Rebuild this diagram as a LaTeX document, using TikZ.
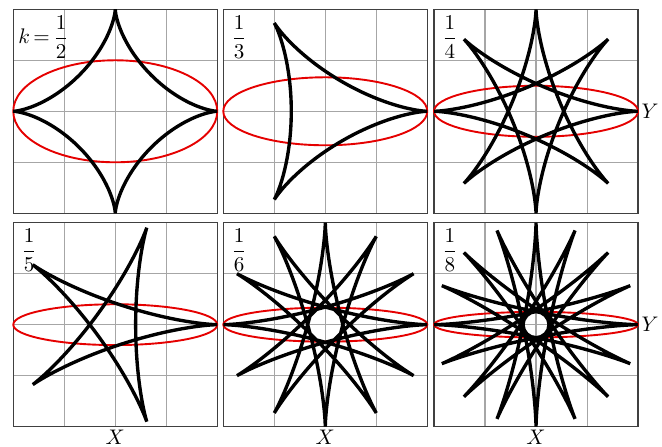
\documentclass[tikz,border=0pt]{standalone}
\usepackage{amsmath}
\usetikzlibrary{positioning}

\begin{document}
\begin{tikzpicture}[
  x=1.7cm, y=1.7cm,
  frame/.style={draw=black!75, line width=0.6pt},
  gridline/.style={draw=black!35, line width=0.5pt},
  orbit/.style={draw=red!90!black, line width=0.9pt},
  star/.style={draw=black, line width=1.6pt},
  tag/.style={anchor=north west, inner sep=0pt},
  axis/.style={inner sep=1.5pt}]
  \useasboundingbox (0,0) rectangle (6.49,4.373);
  \foreach \k/\cx/\cy/\tx/\lab [count=\i] in {
      2/1.130/3.282/-0.955/{k{\,=\,}\dfrac{1}{2}},
      3/3.189/3.282/-0.925/{\dfrac{1}{3}},
      4/5.255/3.282/-0.925/{\dfrac{1}{4}},
      5/1.130/1.190/-0.925/{\dfrac{1}{5}},
      6/3.189/1.190/-0.925/{\dfrac{1}{6}},
      8/5.255/1.190/-0.925/{\dfrac{1}{8}}} {
    \pgfmathsetmacro\umax{360*\k}
    \pgfmathtruncatemacro\nsmp{120*\k+1}
    \begin{scope}[shift={(\cx,\cy)}]
      \draw[gridline] (-1,-1) grid[step=0.5] (1,1);
      \draw[frame] (-1,-1) rectangle (1,1);
      \draw[orbit] (0,0) ellipse [x radius=1, y radius=1/\k];
      % rotating ellipse point
      \draw[star] plot[domain=0:\umax, samples=\nsmp, variable=\u]
        ({cos(\u)*cos(\u/\k)+sin(\u)*sin(\u/\k)/\k},
         {cos(\u)*sin(\u/\k)-sin(\u)*cos(\u/\k)/\k});
      \coordinate (east\i) at (1,0);
      \coordinate (south\i) at (0,-1);
      \node[tag] (lab\i) at (\tx,0.94) {$\lab$};
    \end{scope}
  }
  \node[axis, anchor=west] (ylab3) at (east3) {$Y$};
  \node[axis, anchor=west] (ylab6) at (east6) {$Y$};
  \node[axis, anchor=north] (xlab4) at (south4) {$X$};
  \node[axis, anchor=north] (xlab5) at (south5) {$X$};
  \node[axis, anchor=north] (xlab6) at (south6) {$X$};
\end{tikzpicture}
\end{document}
